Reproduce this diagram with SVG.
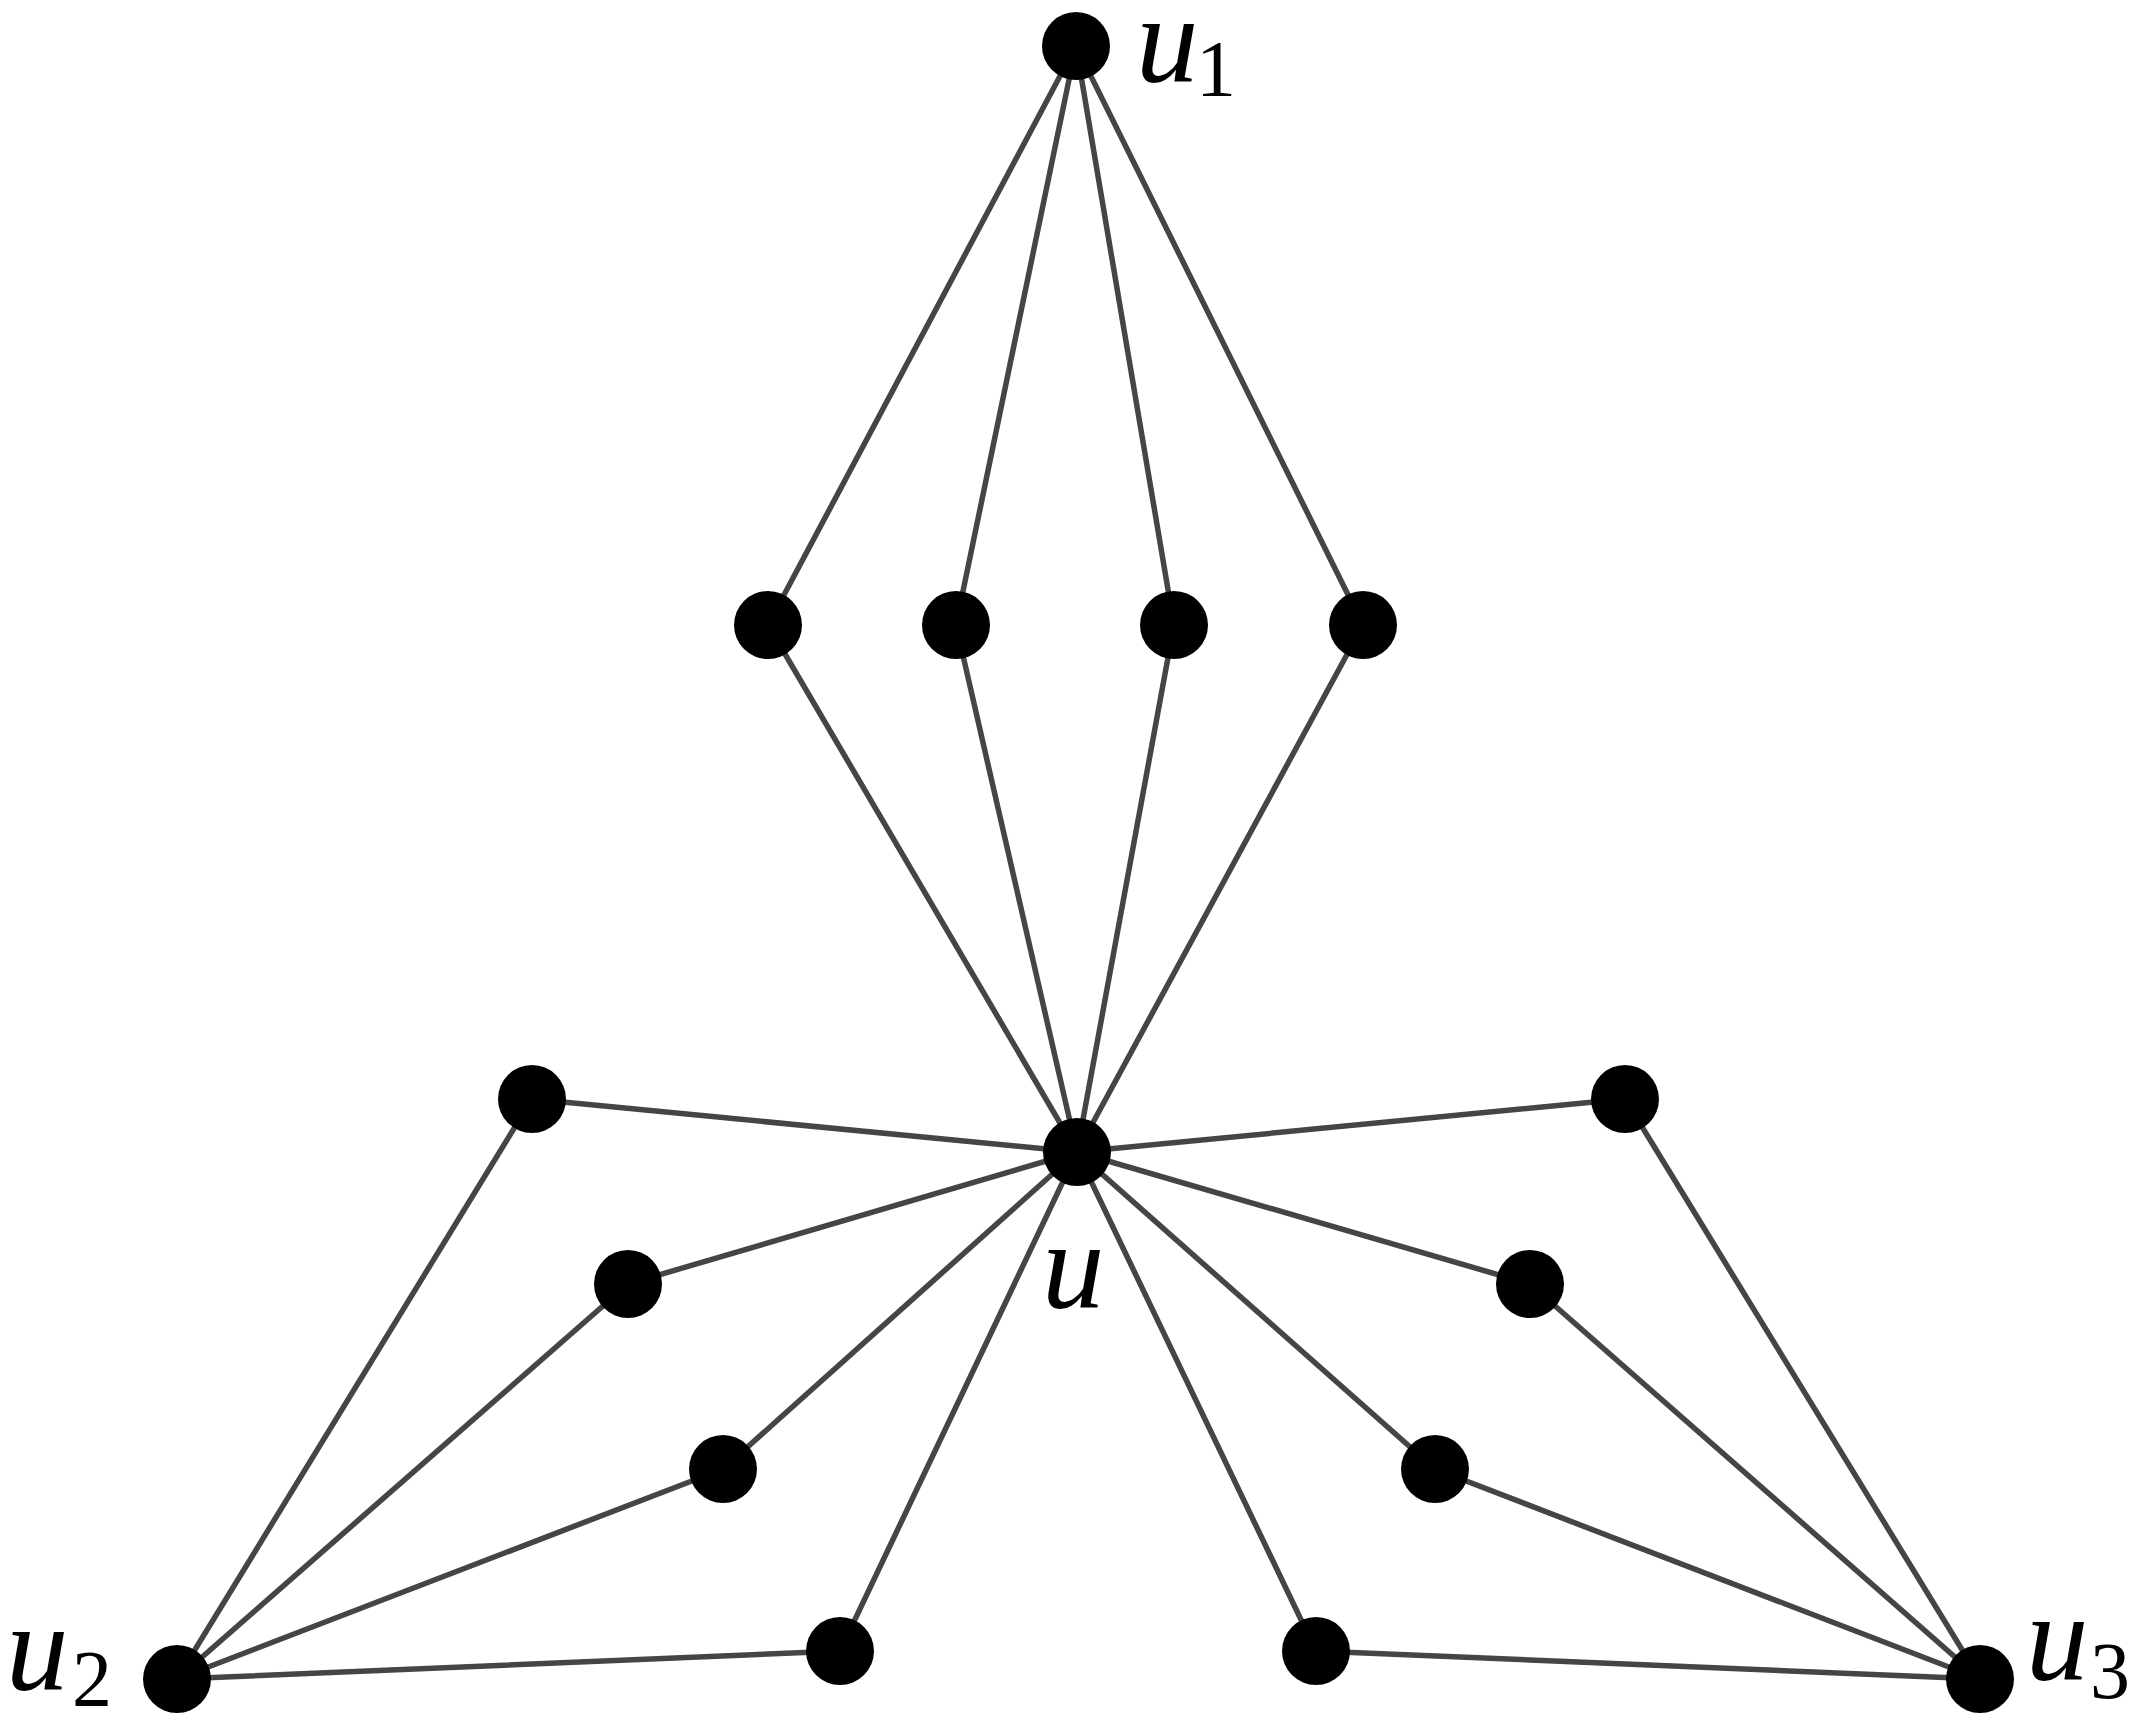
<svg xmlns="http://www.w3.org/2000/svg" width="2152" height="1720" viewBox="0 0 2152 1720">
<style>
.e{stroke:#454545;stroke-width:5.5;fill:none}
.n{fill:#000}
.l{font-family:"Liberation Serif",serif;font-style:italic;font-size:125px}
.s{font-family:"Liberation Serif",serif;font-size:80px}
</style>
<rect width="2152" height="1720" fill="#fff"/>
<g id="edges" class="e">
<path d="M1076 46L768 625M1076 46L956 625M1076 46L1174 625M1076 46L1363 625"/>
<path d="M1077 1152L768 625M1077 1152L956 625M1077 1152L1174 625M1077 1152L1363 625"/>
<path d="M1077 1152L532 1099M1077 1152L628 1284M1077 1152L723 1469M1077 1152L840 1651"/>
<path d="M1077 1152L1625 1099M1077 1152L1530 1284M1077 1152L1435 1469M1077 1152L1316 1651"/>
<path d="M177 1679L532 1099M177 1679L628 1284M177 1679L723 1469M177 1679L840 1651"/>
<path d="M1980 1679L1625 1099M1980 1679L1530 1284M1980 1679L1435 1469M1980 1679L1316 1651"/>
</g>
<g id="u1"><circle class="n" cx="1076" cy="46" r="34"/><text class="l" x="1136" y="82">u</text><text class="s" x="1196" y="96">1</text></g>
<g id="u"><circle class="n" cx="1077" cy="1152" r="34"/><text class="l" x="1042" y="1308">u</text></g>
<g id="u2"><circle class="n" cx="177" cy="1679" r="34"/><text class="l" x="6" y="1690">u</text><text class="s" x="72" y="1706">2</text></g>
<g id="u3"><circle class="n" cx="1980" cy="1679" r="34"/><text class="l" x="2026" y="1680">u</text><text class="s" x="2090" y="1698">3</text></g>
<g id="m1"><circle class="n" cx="768" cy="625" r="34"/></g>
<g id="m2"><circle class="n" cx="956" cy="625" r="34"/></g>
<g id="m3"><circle class="n" cx="1174" cy="625" r="34"/></g>
<g id="m4"><circle class="n" cx="1363" cy="625" r="34"/></g>
<g id="l1"><circle class="n" cx="532" cy="1099" r="34"/></g>
<g id="l2"><circle class="n" cx="628" cy="1284" r="34"/></g>
<g id="l3"><circle class="n" cx="723" cy="1469" r="34"/></g>
<g id="l4"><circle class="n" cx="840" cy="1651" r="34"/></g>
<g id="r1"><circle class="n" cx="1625" cy="1099" r="34"/></g>
<g id="r2"><circle class="n" cx="1530" cy="1284" r="34"/></g>
<g id="r3"><circle class="n" cx="1435" cy="1469" r="34"/></g>
<g id="r4"><circle class="n" cx="1316" cy="1651" r="34"/></g>
</svg>
